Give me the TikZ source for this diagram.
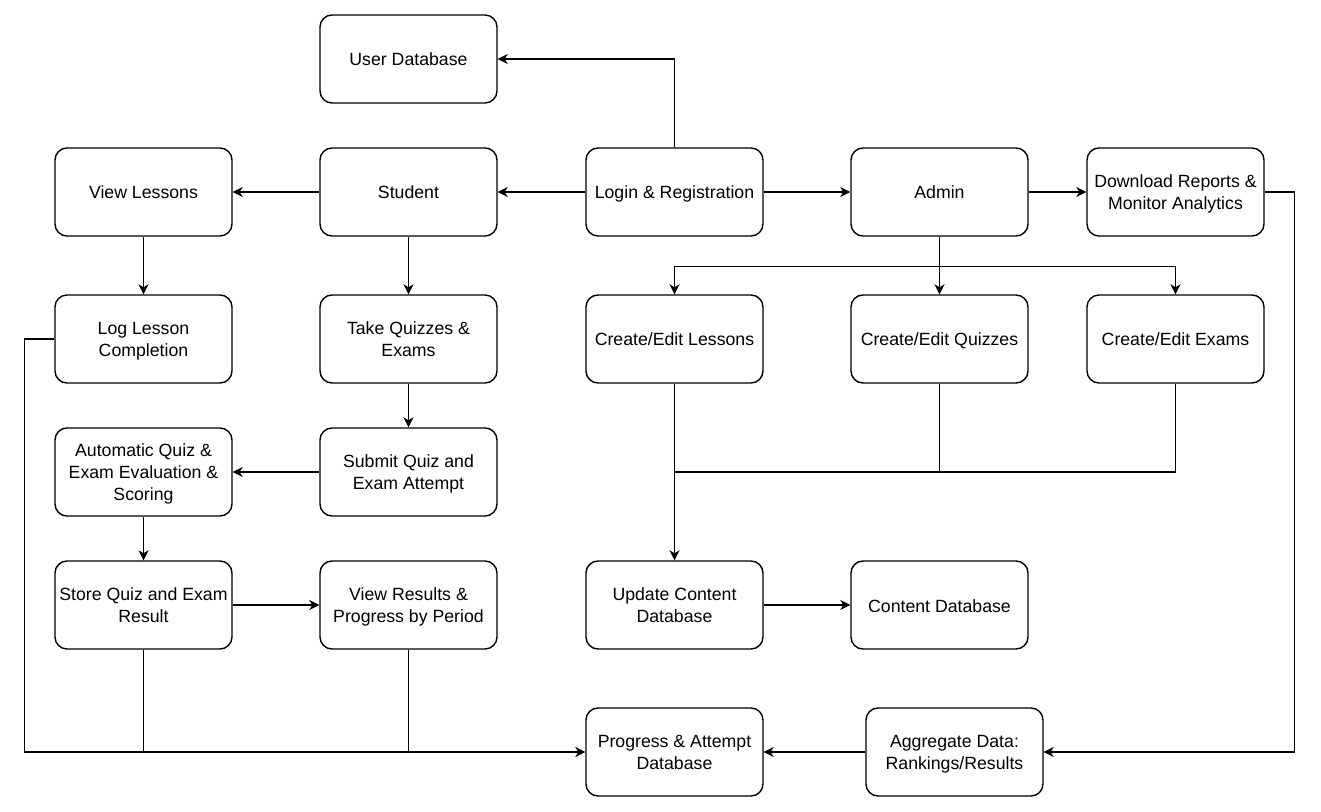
\documentclass[tikz,border=0pt]{standalone}
\usepackage{fontspec}
\setmainfont{Liberation Sans}
\usetikzlibrary{positioning,arrows.meta}
\tikzset{
  box/.style={
    draw,
    rounded corners=6pt,
    minimum width=88.5pt,
    minimum height=44pt,
    inner sep=1pt,
    align=center,
    line width=0.7pt,
    font=\fontsize{8.85}{11}\selectfont,
    execute at begin node={\rule{0pt}{10.3pt}},
    execute at end node=\strut
  },
  multi/.style={text depth=-0.7pt},
  flow/.style={line width=0.7pt,-{Stealth[length=5pt,width=5pt,inset=1.5pt]}},
  link/.style={line width=0.7pt}
}

\begin{document}
\begin{tikzpicture}
      \useasboundingbox (-337.25pt,96pt) rectangle (323.25pt,-310pt);

      \node [box] (Login) {Login \& Registration};
      \node [box, on grid, left=133pt of Login] (Student) {Student};
      \node [box, on grid, left=132.5pt of Student] (Lessons) {View Lessons};
      \node [box, on grid, above=66.5pt of Student] (UserDB) {User Database};
      \node [box, on grid, right=132.5pt of Login] (Admin) {Admin};
      \node [box, multi, on grid, right=118pt of Admin] (Reports) {Download Reports \&\\Monitor Analytics};

      \node [box, multi, on grid, below=73.5pt of Lessons] (LogLesson) {Log Lesson\\Completion};
      \node [box, multi, on grid, below=73.5pt of Student] (Take) {Take Quizzes \&\\Exams};
      \node [box, on grid, below=73.5pt of Login] (EditL) {Create/Edit Lessons};
      \node [box, on grid, below=73.5pt of Admin] (EditQ) {Create/Edit Quizzes};
      \node [box, on grid, below=73.5pt of Reports] (EditE) {Create/Edit Exams};

      \node [box, multi, on grid, below=66.5pt of LogLesson] (Eval) {Automatic Quiz \&\\Exam Evaluation \&\\Scoring};
      \node [box, multi, on grid, below=66.5pt of Take] (Submit) {Submit Quiz and\\Exam Attempt};
      \node [box, multi, on grid, below=66.5pt of Eval] (Store) {Store Quiz and Exam\\Result};
      \node [box, multi, on grid, below=66.5pt of Submit] (Results) {View Results \&\\Progress by Period};
      \node [box, multi, on grid, below=133pt of EditL] (Update) {Update Content\\Database};
      \node [box, on grid, right=132.5pt of Update] (ContentDB) {Content Database};
      \node [box, multi, on grid, below=73.5pt of Update] (ProgressDB) {Progress \& Attempt\\Database};
      \node [box, multi, on grid, right=140pt of ProgressDB] (Aggregate) {Aggregate Data:\\Rankings/Results};

      \draw [flow] (Login.north) |- (UserDB.east);
      \draw [flow] (Login) to (Student);
      \draw [flow] (Login) to (Admin);
      \draw [flow] (Admin) to (Reports);
      \draw [flow] (Student) to (Lessons);
      \draw [flow] (Lessons) to (LogLesson);
      \draw [flow] (Student) to (Take);
      \draw [flow] (Take) to (Submit);
      \draw [flow] (Submit) to (Eval);
      \draw [flow] (Eval) to (Store);
      \draw [flow] (Store) to (Results);

      \draw [flow] (Admin.south) to ++(0,-15pt) -| (EditL.north);
      \draw [flow] (Admin.south) to ++(0,-15pt) -| (EditE.north);
      \draw [flow] (Admin) to (EditQ);

      \coordinate (Join) at (EditL.south |- Submit.east);
      \draw [flow] (EditL) to (Update);
      \draw [link] (EditQ.south) |- (Join);
      \draw [link] (EditE.south) |- (Join);
      \draw [flow] (Update) to (ContentDB);

      \draw [flow] (Reports.east) to ++(15pt,0) |- (Aggregate.east);
      \draw [flow] (Aggregate) to (ProgressDB);
      \draw [flow] (LogLesson.west) to ++(-15pt,0) |- (ProgressDB.west);
      \draw [link] (Store.south) to (Store.south |- ProgressDB.west);
      \draw [link] (Results.south) to (Results.south |- ProgressDB.west);
    \end{tikzpicture}
\end{document}
